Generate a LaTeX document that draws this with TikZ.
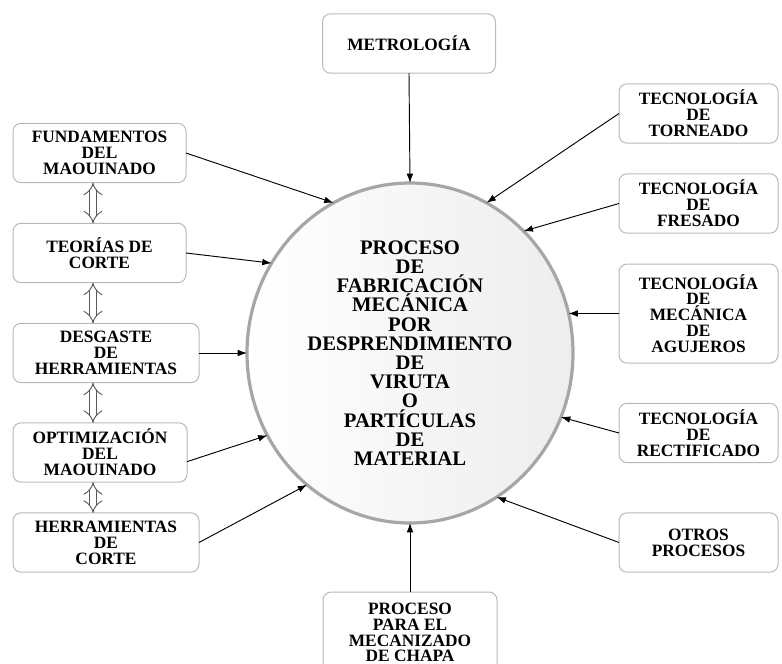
\documentclass[tikz,border=0pt]{standalone}
\usepackage{fontspec}
\setmainfont{Liberation Serif}
\usetikzlibrary{arrows.meta,shapes.geometric}

\begin{document}
\begin{tikzpicture}[x=0.75pt,y=-0.75pt,
  every node/.style={align=center, text=black, outer sep=0pt, inner sep=1pt},
  box/.style={draw=gray!55, line width=0.75pt, rounded corners=6pt, fill=white,
    minimum width=129.75pt, minimum height=44.5pt,
    font=\fontsize{13pt}{11.9pt}\selectfont\bfseries},
  widebox/.style={box, minimum width=139.5pt},
  sidebox/.style={box, minimum width=119.25pt},
  link/.style={-{Latex[length=7pt,width=5pt]}, line width=0.7pt},
  dbl/.style={{Implies}-{Implies}, double distance=4.4pt, line width=0.7pt, draw=gray!70!black}]
\useasboundingbox (0,0) rectangle (782,664);

\node[ellipse, draw=gray!70, line width=2.4pt, left color=white, right color=gray!14,
  minimum width=244.5pt, minimum height=255pt, inner sep=0pt,
  font=\fontsize{15.5pt}{14.4pt}\selectfont\bfseries] (proc) at (410,353)
  {PROCESO\\DE\\FABRICACIÓN\\MECÁNICA\\POR\\DESPRENDIMIENTO\\DE\\VIRUTA\\O\\PARTÍCULAS\\DE\\MATERIAL};

\node[box] (metro) at (409,43.5) {METROLOGÍA};

\node[box] (fund) at (99.5,153) {FUNDAMENTOS\\DEL\\MAOUINADO};
\node[box] (teor) at (99.5,253) {TEORÍAS DE\\CORTE};
\node[widebox] (desg) at (106,353) {DESGASTE\\DE\\HERRAMIENTAS};
\node[box, minimum width=130.5pt] (opti) at (100,452.5) {OPTIMIZACIÓN\\DEL\\MAOUINADO};
\node[widebox] (herr) at (106,542.5) {HERRAMIENTAS\\DE\\CORTE};

\node[sidebox] (torn) at (698.5,113.5) {TECNOLOGÍA\\DE\\TORNEADO};
\node[sidebox] (fres) at (698.5,203.5) {TECNOLOGÍA\\DE\\FRESADO};
\node[sidebox, minimum height=74.25pt] (aguj) at (698.5,313.5) {TECNOLOGÍA\\DE\\ MECÁNICA\\DE\\AGUJEROS};
\node[sidebox] (rect) at (698.5,433) {TECNOLOGÍA\\DE\\RECTIFICADO};
\node[sidebox] (otro) at (698.5,542.5) {OTROS\\PROCESOS};

\node[box, minimum width=130.5pt, minimum height=60.75pt] (chapa) at (410,632.5) {PROCESO\\PARA EL\\MECANIZADO\\DE CHAPA};

\coordinate (arrx) at (93,0);

\draw[link] (metro.south) -- (proc.90);
\draw[link] (fund.east) -- (proc.117);
\draw[link] (teor.east) -- (proc.147);
\draw[link] (desg.east) -- (proc.180);
\draw[link] (opti.-6) -- (proc.210);
\draw[link] (herr.east) -- (proc.232);
\draw[link] (torn.west) -- (proc.63.6);
\draw[link] (fres.west) -- (proc.47);
\draw[link] (aguj.west) -- (proc.14);
\draw[link] (rect.west) -- (proc.337.5);
\draw[link] (otro.west) -- (proc.301.8);
\draw[link] (chapa.north) -- (proc.270);

\draw[dbl] (fund.south -| arrx) -- (teor.north -| arrx);
\draw[dbl] (teor.south -| arrx) -- (desg.north -| arrx);
\draw[dbl] (desg.south -| arrx) -- (opti.north -| arrx);
\draw[dbl] (opti.south -| arrx) -- (herr.north -| arrx);
\end{tikzpicture}
\end{document}
